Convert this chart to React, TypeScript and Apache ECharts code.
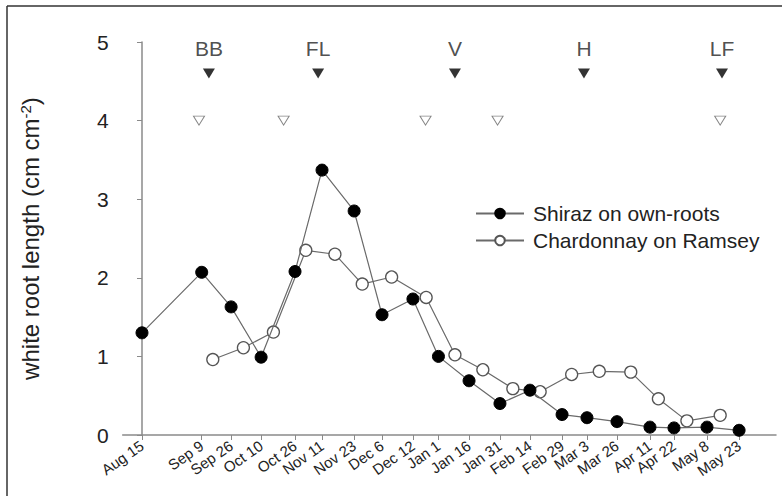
import React, { useEffect, useRef } from "react";
import * as echarts from "echarts";

// Sampling dates (tick labels) and their positions along the x axis (sample-position units)
const dateLabels = ["Aug 15", "Sep 9", "Sep 26", "Oct 10", "Oct 26", "Nov 11", "Nov 23", "Dec 6", "Dec 12", "Jan 1", "Jan 16", "Jan 31", "Feb 14", "Feb 29", "Mar 3", "Mar 26", "Apr 11", "Apr 22", "May 8", "May 23"];
const datePositions = [0, 1.99, 2.97, 3.97, 5.1, 6.0, 7.07, 8.0, 9.03, 9.88, 10.9, 11.93, 12.93, 14.0, 14.83, 15.83, 16.93, 17.73, 18.83, 19.9];

// Shiraz on own-roots (sampled on the tick dates)
const shirazValues = [1.3, 2.07, 1.63, 0.99, 2.08, 3.37, 2.85, 1.53, 1.73, 1.0, 0.69, 0.4, 0.57, 0.26, 0.22, 0.17, 0.1, 0.09, 0.1, 0.06];

// Chardonnay on Ramsey (own sampling positions)
const chardPositions = [2.36, 3.38, 4.38, 5.46, 6.43, 7.34, 8.32, 9.47, 10.43, 11.36, 12.36, 13.27, 14.32, 15.24, 16.29, 17.21, 18.16, 19.27];
const chardValues = [0.96, 1.11, 1.31, 2.35, 2.3, 1.92, 2.01, 1.75, 1.02, 0.83, 0.59, 0.55, 0.77, 0.81, 0.8, 0.46, 0.18, 0.25];

// Phenological stages (Shiraz: filled; Chardonnay: open)
const stageNames = ["BB", "FL", "V", "H", "LF"];
const shirazStagePositions = [2.23, 5.87, 10.43, 14.73, 19.33];
const chardStagePositions = [1.9, 4.72, 9.45, 11.85, 19.27];
const shirazStageLevel = 4.6;
const chardStageLevel = 4.0;
const stageLabelLevel = 4.92;

const yTicks = { min: 0, max: 5, interval: 1 };
const xRange = { min: -0.643, max: 21.13 };

const FONT = "'Liberation Sans', Arial, sans-serif";

export default function App() {
  const ref = useRef<HTMLDivElement>(null);
  useEffect(() => {
    if (!ref.current) return;
    const chart = echarts.init(ref.current, undefined, { renderer: "svg" });
    const axisColor = "#8a8a8a";
    const labelFor = (v: number) => {
      let best = 0;
      let bd = Infinity;
      datePositions.forEach((p, i) => {
        const d = Math.abs(p - v);
        if (d < bd) {
          bd = d;
          best = i;
        }
      });
      return bd < 0.05 ? dateLabels[best] : "";
    };
    chart.setOption({
      animation: false,
      backgroundColor: "#ffffff",
      textStyle: { fontFamily: FONT },
      grid: { left: 122.7, right: 6, top: 42, bottom: 61, containLabel: false },
      legend: {
        orient: "vertical",
        left: 470,
        top: 198,
        itemWidth: 48,
        itemHeight: 12,
        itemGap: 6,
        data: ["Shiraz on own-roots", "Chardonnay on Ramsey"],
        textStyle: { fontSize: 21, color: "#222", fontFamily: FONT, padding: [0, 0, 0, 4] },
      },
      xAxis: {
        type: "value",
        min: xRange.min,
        max: xRange.max,
        splitLine: { show: false },
        axisLine: { lineStyle: { color: axisColor, width: 1.5 } },
        axisTick: { show: true, length: 5, customValues: datePositions, lineStyle: { color: axisColor } },
        axisLabel: {
          customValues: datePositions,
          rotate: 35,
          fontSize: 15,
          color: "#222",
          margin: 9,
          fontFamily: FONT,
          formatter: (v: number) => labelFor(v),
        },
      },
      yAxis: {
        type: "value",
        min: yTicks.min,
        max: yTicks.max,
        interval: yTicks.interval,
        splitLine: { show: false },
        axisLine: { show: true, lineStyle: { color: axisColor, width: 1.5 } },
        axisTick: { show: true, length: 5, lineStyle: { color: axisColor } },
        axisLabel: { fontSize: 21, color: "#222", margin: 14, fontFamily: FONT },
        name: "white root length (cm cm{sup|-2})",
        nameLocation: "middle",
        nameRotate: 90,
        nameGap: 80,
        nameTextStyle: {
          fontSize: 24,
          color: "#222",
          fontFamily: FONT,
          rich: { sup: { fontSize: 15, verticalAlign: "top", padding: [0, 0, 10, 0], color: "#222" } },
        },
      },
      series: [
        {
          name: "Shiraz on own-roots",
          type: "line",
          data: datePositions.map((x, i) => [x, shirazValues[i]]),
          symbol: "circle",
          symbolSize: 12,
          lineStyle: { color: "#6a6a6a", width: 1.2 },
          itemStyle: { color: "#000", borderColor: "#000", borderWidth: 1 },
          z: 3,
        },
        {
          name: "Chardonnay on Ramsey",
          type: "line",
          data: chardPositions.map((x, i) => [x, chardValues[i]]),
          symbol: "circle",
          symbolSize: 12,
          lineStyle: { color: "#6a6a6a", width: 1.2 },
          itemStyle: { color: "#ffffff", borderColor: "#555", borderWidth: 1.3 },
          z: 2,
        },
        {
          name: "Shiraz stages",
          type: "scatter",
          data: shirazStagePositions.map((x) => [x, shirazStageLevel]),
          symbol: "triangle",
          symbolRotate: 180,
          symbolSize: [12, 10],
          itemStyle: { color: "#000" },
          silent: true,
        },
        {
          name: "Chardonnay stages",
          type: "scatter",
          data: chardStagePositions.map((x) => [x, chardStageLevel]),
          symbol: "triangle",
          symbolRotate: 180,
          symbolSize: [11, 9],
          itemStyle: { color: "#fff", borderColor: "#666", borderWidth: 1 },
          silent: true,
        },
        {
          name: "Stage labels",
          type: "scatter",
          data: shirazStagePositions.map((x, i) => ({ value: [x, stageLabelLevel], name: stageNames[i] })),
          symbolSize: 0,
          silent: true,
          label: {
            show: true,
            position: "inside",
            formatter: "{b}",
            fontSize: 21,
            color: "#222",
            fontFamily: FONT,
          },
        },
      ],
      graphic: [
        { type: "line", shape: { x1: 7, y1: 6, x2: 782, y2: 6 }, style: { stroke: "#333", lineWidth: 1.5 } },
        { type: "line", shape: { x1: 7, y1: 6, x2: 7, y2: 496 }, style: { stroke: "#333", lineWidth: 1.5 } },
      ],
    });
    return () => chart.dispose();
  }, []);
  return (
    <div
      ref={ref}
      style={{ position: "fixed", left: 0, top: 0, width: 782, height: 496, background: "#fff" }}
    />
  );
}
